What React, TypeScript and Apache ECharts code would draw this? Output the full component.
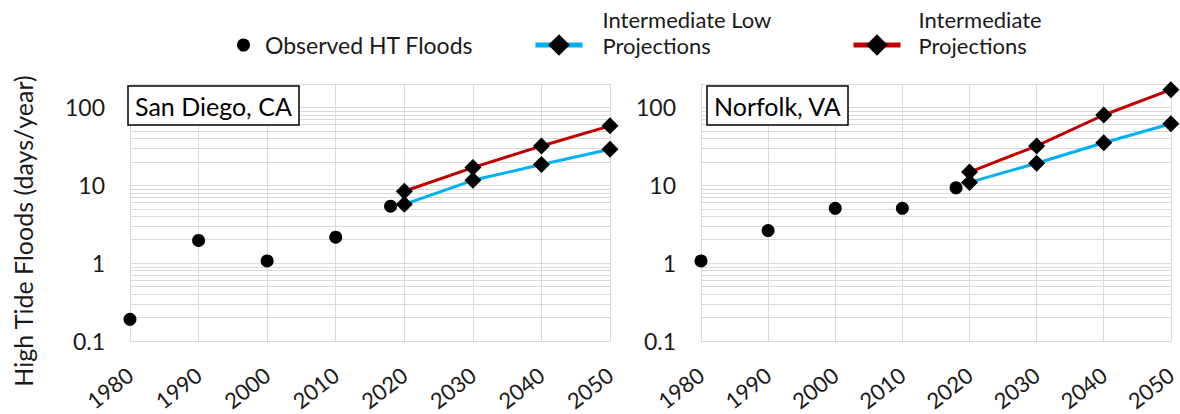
import React, { useEffect, useRef } from 'react';
import * as echarts from 'echarts';

// ---- data ----
const stations = ['San Diego, CA', 'Norfolk, VA'];
const observedYears = [1980, 1990, 2000, 2010, 2018];
const projectionYears = [2020, 2030, 2040, 2050];
const sdObserved = [0.19, 1.96, 1.07, 2.16, 5.4];
const sdIntLow = [5.7, 11.6, 18.5, 29];
const sdInt = [8.4, 16.9, 32, 58];
const nfObserved = [1.07, 2.62, 5.06, 5.06, 9.3];
const nfIntLow = [10.9, 19.2, 35.2, 61.8];
const nfInt = [14.8, 32, 80, 169];
const seriesNames = ['Observed HT Floods', 'Intermediate Low\nProjections', 'Intermediate\nProjections'];
const yAxisTitle = 'High Tide Floods (days/year)';
const xMin = 1980;
const xMax = 2050;
const xInterval = 10;
const yMin = 0.1;
const yMax = 200;
const minorGridValues = [0.2, 0.3, 0.4, 0.5, 0.6, 0.7, 0.8, 0.9, 2, 3, 4, 5, 6, 7, 8, 9, 20, 30, 40, 50, 60, 70, 80, 90];

const observedByStation = [sdObserved, nfObserved];
const intLowByStation = [sdIntLow, nfIntLow];
const intByStation = [sdInt, nfInt];

const FONT = 'Lato';
const TEXT = '#1a1a1a';
const GRID = '#d9d9d9';

export default function App() {
  const ref = useRef<HTMLDivElement>(null);
  useEffect(() => {
    if (!ref.current) return;
    const chart = echarts.init(ref.current, undefined, { renderer: 'svg' });
    const grids = [
      { left: 130, top: 84, width: 480, height: 260 },
      { left: 701, top: 84, width: 476, height: 260 },
    ];
    const xAxes = grids.map((_, i) => ({
      type: 'value',
      gridIndex: i,
      min: xMin,
      max: xMax,
      interval: xInterval,
      axisLine: { show: true, lineStyle: { color: GRID, width: 1 } },
      axisTick: { show: false },
      splitLine: { show: true, lineStyle: { color: GRID, width: 1 } },
      axisLabel: {
        rotate: 38,
        fontSize: 22,
        fontFamily: FONT,
        color: TEXT,
        margin: 31,
        formatter: (v: number) => String(v),
      },
    }));
    const yAxes = grids.map((_, i) => ({
      type: 'log',
      logBase: 10,
      gridIndex: i,
      min: yMin,
      max: yMax,
      axisLine: { show: false },
      axisTick: { show: false },
      splitLine: { show: true, lineStyle: { color: GRID, width: 1 } },
      axisLabel: {
        fontSize: 23,
        fontFamily: FONT,
        color: TEXT,
        margin: 25,
        formatter: (v: number) => (v > 150 ? '' : String(Number(v.toPrecision(3)))),
      },
    }));
    const series: any[] = [];
    grids.forEach((_, i) => {
      series.push({
        name: seriesNames[0],
        type: 'scatter',
        xAxisIndex: i,
        yAxisIndex: i,
        symbol: 'circle',
        symbolSize: 13,
        itemStyle: { color: '#000', opacity: 1 },
        data: observedYears.map((y, k) => [y, observedByStation[i][k]]),
        markLine: {
          silent: true,
          z: 1,
          symbol: ['none', 'none'],
          label: { show: false },
          lineStyle: { color: GRID, width: 1, type: 'solid' },
          emphasis: { disabled: true },
          data: minorGridValues.map((v) => ({ yAxis: v })),
        },
      });
      series.push({
        name: seriesNames[1],
        type: 'line',
        xAxisIndex: i,
        yAxisIndex: i,
        symbol: 'diamond',
        symbolSize: 17,
        itemStyle: { color: '#000' },
        lineStyle: { color: '#00B0F0', width: 3 },
        data: projectionYears.map((y, k) => [y, intLowByStation[i][k]]),
      });
      series.push({
        name: seriesNames[2],
        type: 'line',
        xAxisIndex: i,
        yAxisIndex: i,
        symbol: 'diamond',
        symbolSize: 17,
        itemStyle: { color: '#000' },
        lineStyle: { color: '#C00000', width: 3 },
        data: projectionYears.map((y, k) => [y, intByStation[i][k]]),
      });
    });
    const legendFont = { fontSize: 22, fontFamily: FONT, color: TEXT };
    const twoLine = (name: string) => {
      const parts = name.split('\n');
      return `{a|${parts[0]}}\n{a|${parts[1]}}`;
    };
    const projLegend = (name: string, left: number, padLeft: number) => ({
      data: [name],
      left,
      top: 6,
      padding: 0,
      itemWidth: 47,
      itemHeight: 27,
      selectedMode: false,
      lineStyle: { width: 5 },
      formatter: twoLine,
      textStyle: {
        ...legendFont,
        lineHeight: 26,
        padding: [0, 0, 26, padLeft],
        rich: { a: { ...legendFont, lineHeight: 26 } },
      },
    });
    const option: any = {
      animation: false,
      backgroundColor: '#fff',
      grid: grids,
      xAxis: xAxes,
      yAxis: yAxes,
      legend: [
        {
          data: [seriesNames[0]],
          left: 237,
          top: 33,
          padding: 0,
          itemWidth: 13,
          itemHeight: 15,
          selectedMode: false,
          textStyle: { fontSize: 23, fontFamily: FONT, color: TEXT, lineHeight: 24, padding: [0, 0, 0, 10] },
        },
        projLegend(seriesNames[1], 533, 15),
        projLegend(seriesNames[2], 851, 13),
      ],
      title: [
        { left: 128, top: 86 },
        { left: 707, top: 86 },
      ].map((p, i) => ({
        text: stations[i],
        left: p.left,
        top: p.top,
        padding: [6, 7],
        borderColor: '#000',
        borderWidth: 1.5,
        backgroundColor: '#fff',
        textStyle: { fontSize: 25, fontWeight: 'normal', fontFamily: FONT, color: '#000', lineHeight: 27 },
      })),
      graphic: [
        {
          type: 'text',
          x: 23,
          y: 231,
          rotation: Math.PI / 2,
          style: {
            text: yAxisTitle,
            fontSize: 25,
            fontFamily: FONT,
            fill: TEXT,
            align: 'center',
            verticalAlign: 'middle',
            textAlign: 'center',
            textVerticalAlign: 'middle',
          },
        },
      ],
      series,
    };
    chart.setOption(option);
    return () => chart.dispose();
  }, []);
  return <div ref={ref} style={{ position: 'fixed', left: 0, top: 0, width: 1180, height: 414 }} />;
}
